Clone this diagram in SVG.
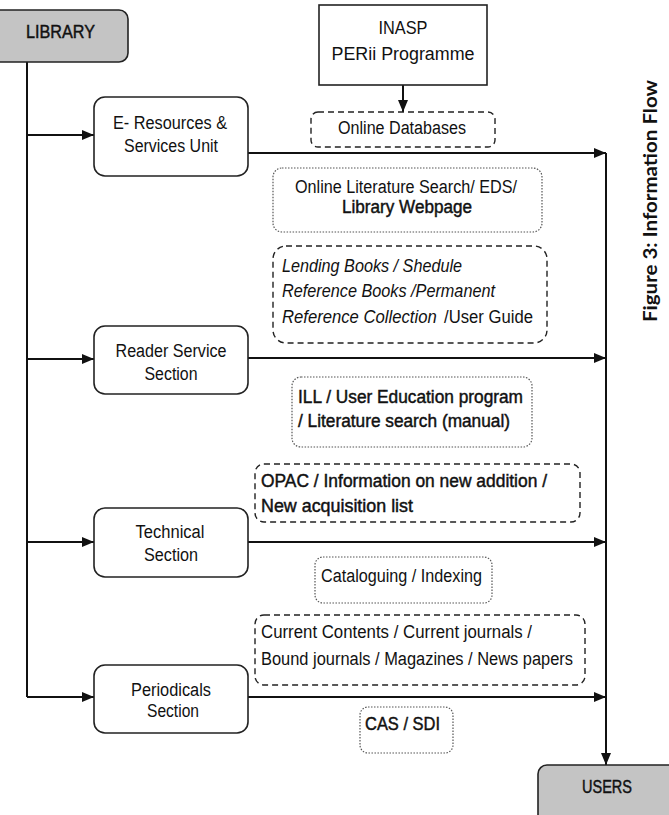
<svg xmlns="http://www.w3.org/2000/svg" width="669" height="815" viewBox="0 0 669 815">
<defs>
<marker id="ah" markerWidth="12" markerHeight="10" refX="12" refY="5" orient="auto" markerUnits="userSpaceOnUse"><path d="M0,0 L12,5 L0,10 Z" fill="#111"/></marker>
<style>
.t{font-family:"Liberation Sans",Arial,sans-serif;font-size:18px;fill:#111}
.n{font-family:"Liberation Sans",Arial,sans-serif;font-size:18px;fill:#111;text-anchor:middle}
.i{font-style:italic}
.m{stroke:#111;stroke-width:0.45}
.node{fill:#fff;stroke:#222;stroke-width:1.6}
.grey{fill:#c4c4c4;stroke:#222;stroke-width:1.6}
.dash{fill:none;stroke:#222;stroke-width:1.4;stroke-dasharray:6,4}
.dot{fill:none;stroke:#555;stroke-width:1.2;stroke-dasharray:1.5,1.5}
.c{fill:none;stroke:#111;stroke-width:2}
.cap{font-family:Lato,"Open Sans",sans-serif;font-weight:bold;font-size:18px;fill:#111;text-anchor:middle}
</style>
</defs>
<rect width="669" height="815" fill="#fff"/>
<g id="connectors">
<path class="c" d="M27,62 V697"/>
<path class="c" d="M27,135 H94" marker-end="url(#ah)"/>
<path class="c" d="M27,359 H94" marker-end="url(#ah)"/>
<path class="c" d="M27,542 H94" marker-end="url(#ah)"/>
<path class="c" d="M27,697 H94" marker-end="url(#ah)"/>
<path class="c" d="M248,153 H606" marker-end="url(#ah)"/>
<path class="c" d="M248,358 H606" marker-end="url(#ah)"/>
<path class="c" d="M248,542 H606" marker-end="url(#ah)"/>
<path class="c" d="M248,697 H606" marker-end="url(#ah)"/>
<path class="c" d="M606,153 V765" marker-end="url(#ah)"/>
<path class="c" d="M403,85 V112" stroke-width="1.6" marker-end="url(#ah)"/>
</g>
<g id="library"><rect class="grey" x="-10" y="10" width="138" height="52" rx="9"/><text class="t m" x="26" y="38" textLength="69" lengthAdjust="spacingAndGlyphs">LIBRARY</text></g>
<g id="inasp"><rect class="node" x="319" y="5" width="168" height="80"/><text class="n" x="403" y="34" font-size="17" textLength="49" lengthAdjust="spacingAndGlyphs">INASP</text><text class="n" x="403" y="60" font-size="17" textLength="143" lengthAdjust="spacingAndGlyphs">PERii Programme</text></g>
<g id="eres"><rect class="node" x="94" y="97" width="154" height="79" rx="11"/><text class="n" x="170" y="129" textLength="114" lengthAdjust="spacingAndGlyphs">E- Resources &amp;</text><text class="n" x="171" y="152" textLength="94" lengthAdjust="spacingAndGlyphs">Services Unit</text></g>
<g id="reader"><rect class="node" x="94" y="326" width="154" height="68" rx="11"/><text class="n" x="171" y="357" textLength="111" lengthAdjust="spacingAndGlyphs">Reader Service</text><text class="n" x="171" y="380" textLength="53" lengthAdjust="spacingAndGlyphs">Section</text></g>
<g id="technical"><rect class="node" x="94" y="508" width="154" height="69" rx="11"/><text class="n" x="170" y="538" textLength="69" lengthAdjust="spacingAndGlyphs">Technical</text><text class="n" x="171" y="561" textLength="54" lengthAdjust="spacingAndGlyphs">Section</text></g>
<g id="periodicals"><rect class="node" x="94" y="665" width="154" height="68" rx="11"/><text class="n" x="171" y="696" textLength="80" lengthAdjust="spacingAndGlyphs">Periodicals</text><text class="n" x="173" y="717" textLength="52" lengthAdjust="spacingAndGlyphs">Section</text></g>
<g id="users"><rect class="grey" x="538" y="765" width="145" height="65" rx="9"/><text class="n m" x="607" y="793" textLength="50" lengthAdjust="spacingAndGlyphs">USERS</text></g>
<g id="online-databases"><rect class="dash" x="311" y="112" width="184" height="35" rx="7"/><text class="n" x="402" y="134" textLength="128" lengthAdjust="spacingAndGlyphs">Online Databases</text></g>
<g id="online-lit"><rect class="dot" x="273" y="168" width="269" height="64" rx="9"/><text class="n" x="406" y="193" textLength="222" lengthAdjust="spacingAndGlyphs">Online Literature Search/ EDS/</text><text class="n m" x="407" y="213" textLength="130" lengthAdjust="spacingAndGlyphs">Library Webpage</text></g>
<g id="lending"><rect class="dash" x="273" y="246" width="274" height="97" rx="13"/><text class="t i" x="282" y="272" textLength="180" lengthAdjust="spacingAndGlyphs">Lending Books / Shedule</text><text class="t i" x="282" y="297" textLength="213" lengthAdjust="spacingAndGlyphs">Reference Books /Permanent</text><text class="t" x="282" y="323" textLength="251" lengthAdjust="spacingAndGlyphs"><tspan class="i">Reference Collection</tspan><tspan dx="3"> /User Guide</tspan></text></g>
<g id="ill"><rect class="dot" x="292" y="377" width="240" height="70" rx="9"/><text class="t m" x="298" y="403" textLength="225" lengthAdjust="spacingAndGlyphs">ILL / User Education program</text><text class="t m" x="298" y="427" textLength="212" lengthAdjust="spacingAndGlyphs">/ Literature search (manual)</text></g>
<g id="opac"><rect class="dash" x="255" y="464" width="325" height="58" rx="9"/><text class="t m" x="261" y="487" textLength="286" lengthAdjust="spacingAndGlyphs">OPAC / Information on new addition /</text><text class="t m" x="261" y="512" textLength="152" lengthAdjust="spacingAndGlyphs">New acquisition list</text></g>
<g id="cataloguing"><rect class="dot" x="315" y="557" width="177" height="46" rx="8"/><text class="t" x="321" y="582" textLength="161" lengthAdjust="spacingAndGlyphs">Cataloguing / Indexing</text></g>
<g id="current"><rect class="dash" x="255" y="615" width="330" height="70" rx="9"/><text class="t" x="261" y="638" textLength="271" lengthAdjust="spacingAndGlyphs">Current Contents / Current journals /</text><text class="t" x="261" y="665" textLength="312" lengthAdjust="spacingAndGlyphs">Bound journals /  Magazines / News papers</text></g>
<g id="cas"><rect class="dot" x="360" y="707" width="93" height="46" rx="8"/><text class="t m" x="365" y="730" textLength="75" lengthAdjust="spacingAndGlyphs">CAS / SDI</text></g>
<g id="caption"><text class="cap" transform="translate(657,201) rotate(-90)" textLength="242" lengthAdjust="spacingAndGlyphs">Figure 3: Information Flow</text></g>
</svg>
